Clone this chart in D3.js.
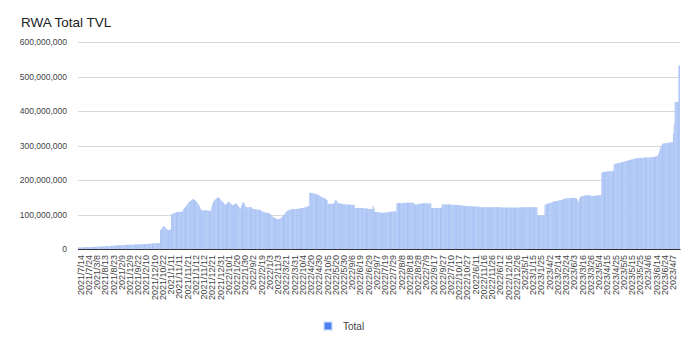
<!DOCTYPE html>
<html><head><meta charset="utf-8">
<script src="https://cdn.jsdelivr.net/npm/d3@7"></script>
<style>
body{margin:0;background:#fff;}
svg{display:block;font-family:"Liberation Sans",Arial,sans-serif;}
</style></head><body>
<svg id="c" width="700" height="351"></svg>
<script>
// Daily total TVL (millions USD), 2021-07-14 .. 2023-07-14
const startDate = "2021-07-14";
const totalM = [
4.2,4.3,4.3,4.5,4.6,4.6,4.8,4.9,5.0,5.1,
5.2,5.3,5.3,5.5,5.6,5.7,5.8,5.9,6.0,6.1,
6.2,6.3,6.4,6.5,6.6,6.7,6.8,7.0,7.1,7.2,
7.3,7.4,7.6,7.7,7.8,8.0,8.1,8.3,8.5,8.8,
9.0,9.2,9.4,9.6,9.8,10.0,10.1,10.3,10.4,10.5,
10.6,10.8,11.0,11.1,11.2,11.4,11.5,11.6,11.8,11.9,
12.0,12.1,12.2,12.3,12.4,12.5,12.6,12.7,12.8,12.9,
13.0,13.1,13.2,13.3,13.4,13.5,13.6,13.7,13.8,14.0,
14.2,14.3,14.5,14.6,14.8,15.0,15.1,15.3,15.4,15.6,
15.8,16.0,16.1,16.3,16.5,16.6,16.8,17.0,17.1,17.3,
55,58,62,66,65,63,60,58,56,55,
55,56,57,100,102,103,104,105,106,106,
107,107,108,108,107,108,108,112,116,119,
122,126,129,132,135,137,139,141,143,144,
144,142,140,137,134,132,128,123,117,114,
112,111,111,112,113,112,112,112,111,110,
108,114,122,130,137,140,143,145,147,149,
149,147,145,141,138,137,134,131,129,127,
130,134,137,136,133,131,129,127,127,128,
130,132,131,128,124,121,119,117,124,130,
135,133,128,122,121,121,120,121,122,121,
120,118,116,116,116,115,115,114,114,114,
113,112,111,110,108,107,106,106,105,105,
104,104,103,101,99,96,93,92,90,89,
88,87,86,86,87,88,90,92,94,96,
99,103,107,109,111,112,113,114,115,115,
115,116,116,116,116,116,116,117,117,117,
118,118,119,119,120,121,121,122,123,123,
124,163,163,162,162,161,161,160,159,158,
158,157,156,154,152,151,150,149,148,147,
145,143,141,131,131,131,131,131,131,131,
131,134,141,141,138,133,133,132,132,131,
131,130,130,129,129,129,129,129,129,128,
128,128,128,128,128,127,119,119,119,119,
119,119,119,119,119,119,118,118,118,117,
117,117,117,116,116,116,116,116,125,118,
108,107,107,107,106,106,106,105,105,105,
105,105,105,106,106,106,107,107,107,108,
108,108,109,109,109,109,109,133,133,133,
133,133,133,133,133,134,133,133,134,134,
134,134,134,134,134,134,134,134,129,129,
129,129,129,130,131,131,132,132,132,132,
132,132,132,132,132,132,132,132,132,119,
119,119,119,119,119,119,119,119,119,119,
119,120,129,129,129,129,129,129,129,129,
129,129,129,128,128,128,128,128,128,128,
127,127,127,127,127,126,126,126,125,125,
125,125,125,124,124,124,124,124,124,123,
123,123,123,123,123,123,122,122,121,121,
121,121,121,121,121,121,121,121,121,121,
121,121,121,121,121,121,121,121,121,121,
121,121,121,121,120,120,120,120,120,120,
120,120,120,120,120,120,120,120,120,120,
120,120,120,120,120,120,120,120,121,121,
121,121,121,121,121,121,121,121,121,121,
121,121,121,121,121,121,121,121,97,97,
97,97,97,97,97,97,97,128,129,130,
131,132,133,133,134,135,136,137,137,138,
138,139,139,140,141,141,142,142,143,144,
145,146,146,147,147,147,147,148,148,148,
148,148,148,148,148,146,144,137,137,145,
151,152,153,154,154,155,155,156,156,156,
156,155,155,154,154,154,154,154,154,155,
155,155,155,156,156,156,221,222,223,223,
224,224,224,225,225,225,226,226,226,226,
226,246,247,247,248,248,249,249,250,250,
251,252,252,253,254,254,255,256,256,257,
258,259,259,260,261,261,262,262,263,263,
263,264,264,264,264,264,264,265,265,265,
265,265,265,265,265,266,266,266,266,267,
267,268,269,270,271,276,283,291,296,301,
305,306,306,307,307,307,308,308,308,308,
309,310,310,335,364,426,426,426,426,426,
532
];
const tickLabels = [
"2021/7/14","2021/7/24","2021/3/8","2021/8/13","2021/8/23","2021/2/9","2021/12/9","2021/9/22","2021/2/10","2021/12/10",
"2021/10/22","2021/1/11","2021/11/11","2021/11/21","2021/1/12","2021/11/12","2021/12/21","2021/12/31","2022/10/1","2022/1/20",
"2022/1/30","2022/9/2","2022/2/19","2022/1/3","2022/11/3","2022/3/21","2022/3/31","2022/10/4","2022/4/20","2022/4/30",
"2022/10/5","2022/5/20","2022/5/30","2022/9/6","2022/6/19","2022/6/29","2022/9/7","2022/7/19","2022/7/29","2022/8/8",
"2022/8/18","2022/8/28","2022/7/9","2022/9/17","2022/9/27","2022/7/10","2022/10/17","2022/10/27","2022/6/11","2022/11/16",
"2022/11/26","2022/6/12","2022/12/16","2022/12/26","2023/5/1","2023/1/15","2023/1/25","2023/4/2","2023/2/14","2023/2/24",
"2023/6/3","2023/3/16","2023/3/26","2023/5/4","2023/4/15","2023/4/25","2023/5/5","2023/5/15","2023/5/25","2023/4/6",
"2023/6/14","2023/6/24","2023/4/7"
];
const yTicks = [0,100e6,200e6,300e6,400e6,500e6,600e6];
const seriesName = "Total";
const tickEvery = 10;

const t0 = new Date(startDate + "T00:00:00");
const dates = totalM.map((v,i)=>d3.timeDay.offset(t0,i));
const data = totalM.map((v,i)=>({i, date:dates[i], value:v*1e6}));

const svg = d3.select("#c");
const L = 78, R = 679.5, T = 42, B = 249;

const x = d3.scaleBand().domain(data.map(d=>d.i)).range([L,R]).paddingInner(0).paddingOuter(0);
const y = d3.scaleLinear().domain([0,600e6]).range([B,T]);

// gridlines
svg.append("g").selectAll("line").data(yTicks.filter(v=>v>0)).join("line")
  .attr("x1",L).attr("x2",R+1).attr("y1",d=>Math.round(y(d))+0.5).attr("y2",d=>Math.round(y(d))+0.5)
  .attr("stroke","#d9d9d9").attr("stroke-width",1);

// y labels
const yAxis = d3.axisLeft(y).tickValues(yTicks).tickSize(0).tickPadding(0).tickFormat(d3.format(","));
const gy = svg.append("g").attr("transform",`translate(${67},0)`).call(yAxis);
gy.select(".domain").remove();
gy.selectAll("text").attr("fill","#444").attr("font-size","8.5px").attr("font-family","'Liberation Sans',Arial,sans-serif");

// bars
svg.append("g").selectAll("rect").data(data).join("rect")
  .attr("x",d=>x(d.i)).attr("width",x.bandwidth()+0.35)
  .attr("y",d=>y(d.value)).attr("height",d=>B-y(d.value))
  .attr("fill","#b0c8f6");

// faint column stripes like the reference rendering
svg.append("g").selectAll("rect").data(data.filter(d=>d.i%10===0)).join("rect")
  .attr("x",d=>x(d.i)).attr("width",0.7)
  .attr("y",d=>y(d.value)).attr("height",d=>B-y(d.value))
  .attr("fill","#a3bef4");

// baseline
svg.append("line").attr("x1",L).attr("x2",R+1).attr("y1",B+0.5).attr("y2",B+0.5)
  .attr("stroke","#333").attr("stroke-width",1.2);

// x axis
const xAxis = d3.axisBottom(x)
  .tickValues(data.filter(d=>d.i%tickEvery===0 && d.i/tickEvery < tickLabels.length).map(d=>d.i))
  .tickSize(0).tickPadding(0)
  .tickFormat(i=>tickLabels[i/tickEvery]);
const gx = svg.append("g").attr("transform",`translate(2,${B+6})`).call(xAxis);
gx.select(".domain").remove();
gx.selectAll("text")
  .attr("transform","rotate(-90)")
  .attr("text-anchor","end")
  .attr("dy","0.35em").attr("dx","0").attr("y",0).attr("x",0)
  .attr("fill","#444").attr("font-size","9px").attr("font-family","'Liberation Sans',Arial,sans-serif");

// title
svg.append("text").attr("x",21).attr("y",27).text("RWA Total TVL")
  .attr("font-size","13.5px").attr("fill","#222");

// legend
const lg = svg.append("g").attr("transform","translate(323,321)");
lg.append("rect").attr("x",0).attr("y",0).attr("width",10).attr("height",10).attr("fill","#dfe8fc");
lg.append("rect").attr("x",1.5).attr("y",1.5).attr("width",7).attr("height",7).attr("fill","#4a80f0");
lg.append("text").attr("x",20).attr("y",9).text(seriesName).attr("font-size","10px").attr("fill","#444");
</script>
</body></html>
